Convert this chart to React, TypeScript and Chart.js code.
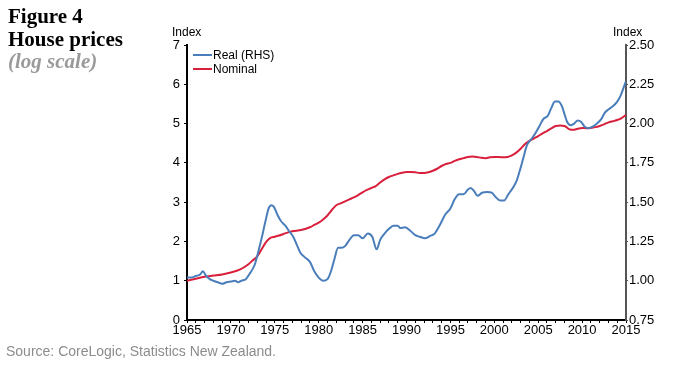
import React, { useEffect, useRef } from "react";
import { Chart, registerables } from "chart.js";

Chart.register(...registerables);

// Nominal house price index (left axis)
const nominalYears = [
  1965.0, 1966.0, 1967.0, 1968.0, 1969.0, 1970.0, 1971.0, 1972.0, 1972.5, 1973.0,
  1973.5, 1974.0, 1974.5, 1975.0, 1975.5, 1976.0, 1976.5, 1977.0, 1978.0, 1979.0,
  1979.5, 1980.0, 1980.5, 1981.0, 1981.5, 1982.0, 1982.5, 1983.0, 1983.5, 1984.0,
  1984.5, 1985.0, 1985.5, 1986.0, 1986.5, 1987.0, 1987.5, 1988.0, 1988.5, 1989.0,
  1989.5, 1990.0, 1990.5, 1991.0, 1991.5, 1992.0, 1992.5, 1993.0, 1993.5, 1994.0,
  1994.5, 1995.0, 1995.5, 1996.0, 1996.5, 1997.0, 1997.5, 1998.0, 1998.5, 1999.0,
  1999.5, 2000.0, 2000.5, 2001.0, 2001.5, 2002.0, 2002.5, 2003.0, 2003.5, 2004.0,
  2004.5, 2005.0, 2005.5, 2006.0, 2006.5, 2007.0, 2007.5, 2008.0, 2008.5, 2009.0,
  2009.5, 2010.0, 2010.5, 2011.0, 2011.5, 2012.0, 2012.5, 2013.0, 2013.5, 2014.0,
  2014.5, 2015.0,
];
const nominalValues = [
  1.0, 1.05, 1.1, 1.13, 1.16, 1.21, 1.28, 1.42, 1.52, 1.62,
  1.8, 1.98, 2.09, 2.12, 2.15, 2.19, 2.23, 2.26, 2.29, 2.36,
  2.42, 2.48, 2.56, 2.66, 2.8, 2.92, 2.97, 3.02, 3.07, 3.12,
  3.18, 3.25, 3.31, 3.36, 3.41, 3.5, 3.58, 3.64, 3.68, 3.72,
  3.75, 3.77, 3.77, 3.76, 3.74, 3.74, 3.76, 3.8, 3.85, 3.92,
  3.97, 4.0, 4.05, 4.09, 4.12, 4.15, 4.16, 4.15, 4.13, 4.12,
  4.14, 4.15, 4.15, 4.14, 4.15, 4.19, 4.26, 4.36, 4.48, 4.56,
  4.62, 4.68, 4.75, 4.81, 4.88, 4.94, 4.95, 4.94, 4.86, 4.84,
  4.87, 4.89, 4.88, 4.89, 4.91, 4.94, 4.98, 5.03, 5.06, 5.09,
  5.14, 5.22,
];

// Real house price index (right axis)
const realYears = [
  1965.0, 1965.5, 1966.0, 1966.5, 1966.8, 1967.2, 1967.6, 1968.0, 1968.5, 1969.0,
  1969.5, 1970.0, 1970.5, 1970.8, 1971.2, 1971.7, 1972.2, 1972.7, 1973.1, 1973.5,
  1973.9, 1974.3, 1974.6, 1974.9, 1975.3, 1975.7, 1976.2, 1976.7, 1977.1, 1977.5,
  1977.9, 1978.4, 1979.0, 1979.5, 1980.0, 1980.5, 1981.0, 1981.4, 1981.8, 1982.2,
  1982.6, 1983.0, 1983.5, 1984.0, 1984.5, 1985.0, 1985.6, 1986.1, 1986.6, 1987.0,
  1987.5, 1988.0, 1988.5, 1989.0, 1989.3, 1989.8, 1990.4, 1991.0, 1991.5, 1992.1,
  1992.7, 1993.2, 1993.8, 1994.4, 1995.0, 1995.5, 1996.0, 1996.5, 1997.0, 1997.3,
  1997.7, 1998.1, 1998.6, 1999.2, 1999.7, 2000.2, 2000.7, 2001.1, 2001.6, 2002.1,
  2002.5, 2002.9, 2003.3, 2003.7, 2004.2, 2004.7, 2005.2, 2005.6, 2006.1, 2006.5,
  2006.9, 2007.3, 2007.7, 2008.0, 2008.3, 2008.7, 2009.1, 2009.5, 2009.9, 2010.3,
  2010.7, 2011.2, 2011.7, 2012.2, 2012.6, 2013.0, 2013.5, 2014.0, 2014.4, 2014.8,
  2015.0,
];
const realValues = [
  1.02, 1.02, 1.03, 1.04, 1.06, 1.03, 1.01, 1.0, 0.99, 0.98,
  0.99, 0.995, 1.0, 0.99, 1.0, 1.01, 1.05, 1.1, 1.18, 1.27,
  1.37, 1.46, 1.48, 1.47, 1.42, 1.38, 1.35, 1.31, 1.28, 1.23,
  1.18, 1.15, 1.12, 1.06, 1.02, 1.0, 1.01, 1.06, 1.14, 1.21,
  1.21, 1.22, 1.26, 1.29, 1.29, 1.27, 1.3, 1.28, 1.2, 1.26,
  1.3, 1.33, 1.35, 1.35, 1.335, 1.34, 1.32, 1.29, 1.28, 1.27,
  1.285, 1.3, 1.355, 1.42, 1.46, 1.52, 1.55, 1.55, 1.58, 1.59,
  1.57, 1.54, 1.56, 1.565, 1.56, 1.53, 1.51, 1.51, 1.55, 1.59,
  1.63, 1.7, 1.78, 1.86, 1.9, 1.94, 1.99, 2.03, 2.05, 2.1,
  2.14, 2.14, 2.11, 2.06, 2.01, 1.99, 2.0, 2.02, 2.01, 1.98,
  1.97, 1.98, 2.0, 2.03, 2.07, 2.09, 2.11, 2.14, 2.18, 2.24,
  2.27,
];

const seriesLabels = ["Real (RHS)", "Nominal"];
const seriesColors = ["#4A7EBB", "#D8203C"];

const xMin = 1965;
const xMax = 2015;
const leftMin = 0;
const leftMax = 7;
const rightMin = 0.75;
const rightMax = 2.5;
const rightStep = 0.25;

const legendPlugin = {
  id: "insideLegend",
  afterDatasetsDraw(chart: any) {
    const ctx = chart.ctx;
    const area = chart.chartArea;
    ctx.save();
    seriesLabels.forEach((label, i) => {
      const y = area.top + 10 + i * 14;
      ctx.strokeStyle = seriesColors[i];
      ctx.lineWidth = 2;
      ctx.beginPath();
      ctx.moveTo(area.left + 6, y);
      ctx.lineTo(area.left + 25, y);
      ctx.stroke();
      ctx.fillStyle = "#000";
      ctx.font = "12px 'Liberation Sans', Arial, sans-serif";
      ctx.textBaseline = "middle";
      ctx.textAlign = "left";
      ctx.fillText(label, area.left + 26, y + 1);
    });
    ctx.restore();
  },
};

export default function App() {
  const ref = useRef<HTMLCanvasElement | null>(null);

  useEffect(() => {
    if (!ref.current) return;
    const font = { family: "'Liberation Sans', Arial, sans-serif", size: 13 };
    const chart = new Chart(ref.current, {
      type: "line",
      data: {
        datasets: [
          {
            label: seriesLabels[0],
            data: realYears.map((x, i) => ({ x, y: realValues[i] })),
            borderColor: seriesColors[0],
            backgroundColor: seriesColors[0],
            borderWidth: 2,
            pointRadius: 0,
            cubicInterpolationMode: "monotone",
            yAxisID: "yR",
          },
          {
            label: seriesLabels[1],
            data: nominalYears.map((x, i) => ({ x, y: nominalValues[i] })),
            borderColor: seriesColors[1],
            backgroundColor: seriesColors[1],
            borderWidth: 2,
            pointRadius: 0,
            cubicInterpolationMode: "monotone",
            yAxisID: "yL",
          },
        ],
      },
      options: {
        responsive: false,
        animation: false,
        layout: { padding: { top: 45, left: 0, right: 0, bottom: 0 } },
        plugins: {
          legend: { display: false },
          tooltip: { enabled: false },
        },
        scales: {
          x: {
            type: "linear",
            min: xMin,
            max: xMax,
            grid: { drawOnChartArea: false, tickLength: 3, color: "#000", tickWidth: 1 },
            border: { color: "#000", width: 2 },
            ticks: {
              stepSize: 1,
              autoSkip: false,
              maxRotation: 0,
              padding: 0,
              color: "#000",
              font,
              callback: (v: any) => (Number(v) % 5 === 0 ? String(v) : ""),
            },
            afterFit: (s: any) => {
              s.height = 48;
            },
          },
          yL: {
            type: "linear",
            position: "left",
            min: leftMin,
            max: leftMax,
            grid: { drawOnChartArea: false, tickLength: 3, color: "#000" },
            border: { color: "#000", width: 2 },
            ticks: { stepSize: 1, padding: 4, color: "#000", font },
            afterFit: (s: any) => {
              s.width = 187;
            },
          },
          yR: {
            type: "linear",
            position: "right",
            min: rightMin,
            max: rightMax,
            grid: { drawOnChartArea: false, tickLength: 2, color: "#555" },
            border: { color: "#555", width: 2 },
            ticks: {
              stepSize: rightStep,
              padding: 1,
              color: "#000",
              font,
              callback: (v: any) => Number(v).toFixed(2),
            },
            afterFit: (s: any) => {
              s.width = 48;
            },
          },
        },
      },
      plugins: [legendPlugin],
    } as any);
    return () => chart.destroy();
  }, []);

  const serif = "'Liberation Serif', 'Times New Roman', serif";
  const sans = "'Liberation Sans', Arial, sans-serif";
  return (
    <div style={{ position: "fixed", left: 0, top: 0, width: 674, height: 368, background: "#fff" }}>
      <canvas ref={ref} width={674} height={368} style={{ position: "absolute", left: 0, top: 0, width: 674, height: 368 }} />
      <div style={{ position: "absolute", left: 8, top: 5, fontFamily: serif, fontWeight: "bold", fontSize: 21, lineHeight: "22.5px", color: "#000" }}>
        <div>Figure 4</div>
        <div>House prices</div>
        <div style={{ color: "#9a9a9a", fontStyle: "italic" }}>(log scale)</div>
      </div>
      <div style={{ position: "absolute", left: 172, top: 25, fontFamily: sans, fontSize: 12, color: "#000" }}>Index</div>
      <div style={{ position: "absolute", left: 613, top: 25, fontFamily: sans, fontSize: 12, color: "#000" }}>Index</div>
      <div style={{ position: "absolute", left: 6, top: 343, fontFamily: sans, fontSize: 14, color: "#8c8c8c" }}>
        Source: CoreLogic, Statistics New Zealand.
      </div>
    </div>
  );
}
